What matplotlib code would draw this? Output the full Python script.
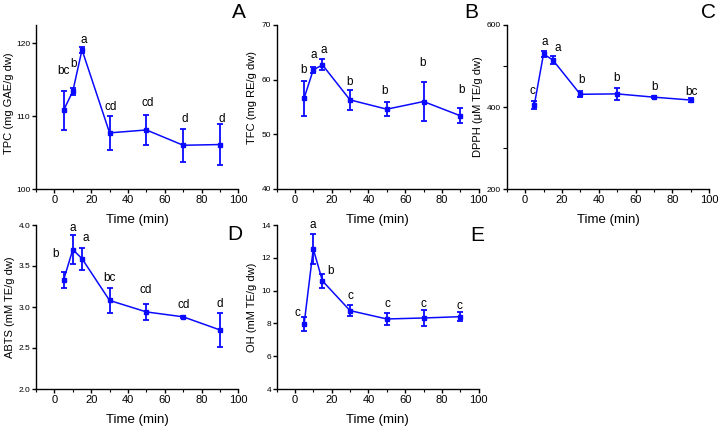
import matplotlib
matplotlib.use("Agg")
import matplotlib.pyplot as plt
from matplotlib.ticker import MultipleLocator, FormatStrFormatter

plt.rcParams['font.family'] = ['Liberation Sans', 'DejaVu Sans']

# ---------------- data ----------------
time_min = [5, 10, 15, 30, 50, 70, 90]

tpc = [110.8, 113.4, 119.1, 107.7, 108.1, 106.0, 106.1]
tpc_err = [2.7, 0.45, 0.4, 2.35, 2.1, 2.3, 2.85]
tpc_letters = ['bc', 'b', 'a', 'cd', 'cd', 'd', 'd']
tpc_letter_x = [5, 10.4, 15.7, 30.7, 50.7, 71, 90.7]
tpc_letter_y = [116.2, 117.1, 120.4, 111.2, 111.8, 109.6, 109.6]

tfc = [56.6, 61.8, 62.7, 56.3, 54.6, 56.0, 53.4]
tfc_err = [3.2, 0.5, 1.0, 1.9, 1.25, 3.55, 1.35]
tfc_letters = ['b', 'a', 'a', 'b', 'b', 'b', 'b']
tfc_letter_x = [4.8, 10.1, 15.7, 30, 49, 69.7, 90.7]
tfc_letter_y = [61.8, 64.45, 65.4, 59.6, 58.0, 63.0, 58.1]

dpph = [405, 529, 515, 431, 432, 424, 417]
dpph_err = [10, 8, 9, 7, 15, 3, 5.5]
dpph_letters = ['c', 'a', 'a', 'b', 'b', 'b', 'bc']
dpph_letter_x = [4.1, 10.6, 17.7, 30.9, 49.9, 70.5, 90.6]
dpph_letter_y = [439, 559, 543, 466, 470, 449.5, 437]

abts = [3.33, 3.70, 3.59, 3.08, 2.94, 2.88, 2.72]
abts_err = [0.10, 0.18, 0.135, 0.15, 0.095, 0.01, 0.21]
abts_letters = ['b', 'a', 'a', 'bc', 'cd', 'cd', 'd']
abts_letter_x = [0.8, 9.9, 16.8, 30.2, 49.8, 70, 90]
abts_letter_y = [3.65, 3.96, 3.84, 3.35, 3.21, 3.02, 3.04]

oh = [7.94, 12.54, 10.59, 8.78, 8.27, 8.33, 8.41]
oh_err = [0.43, 0.9, 0.43, 0.35, 0.35, 0.48, 0.27]
oh_letters = ['c', 'a', 'b', 'c', 'c', 'c', 'c']
oh_letter_x = [1.2, 9.7, 19.2, 30, 50.6, 69.7, 89.7]
oh_letter_y = [8.61, 14.0, 11.2, 9.67, 9.18, 9.18, 9.06]

W, H = 719, 428
fig = plt.figure(figsize=(W / 100, H / 100), dpi=100)


def rect(left, top, right, bottom):
    return [left / W, (H - bottom) / H, (right - left) / W, (bottom - top) / H]


panels = [
    dict(r=rect(36, 25, 238.4, 189), y=tpc, e=tpc_err, lab=tpc_letters, lx=tpc_letter_x, ly=tpc_letter_y,
         ylabel='TPC (mg GAE/g dw)', ylim=(100, 122.5), major=10, minor=None, fmt='%d',
         ylc=(-0.133, 0.524), tag='A', tagpos=(239, 13)),
    dict(r=rect(276.5, 25, 478.7, 189), y=tfc, e=tfc_err, lab=tfc_letters, lx=tfc_letter_x, ly=tfc_letter_y,
         ylabel='TFC (mg RE/g dw)', ylim=(40, 70), major=10, minor=None, fmt='%d',
         ylc=(-0.119, 0.56), tag='B', tagpos=(471, 13)),
    dict(r=rect(506.7, 25, 709.1, 189), y=dpph, e=dpph_err, lab=dpph_letters, lx=dpph_letter_x, ly=dpph_letter_y,
         ylabel='DPPH (\u03bcM TE/g dw)', ylim=(200, 600), major=200, minor=100, fmt='%d',
         ylc=(-0.14, 0.502), tag='C', tagpos=(709, 13)),
    dict(r=rect(36, 225, 238.4, 389), y=abts, e=abts_err, lab=abts_letters, lx=abts_letter_x, ly=abts_letter_y,
         ylabel='ABTS (mM TE/g dw)', ylim=(2, 4), major=0.5, minor=None, fmt='%.1f',
         ylc=(-0.126, 0.497), tag='D', tagpos=(235, 235)),
    dict(r=rect(276.5, 225, 478.7, 389), y=oh, e=oh_err, lab=oh_letters, lx=oh_letter_x, ly=oh_letter_y,
         ylabel='OH (mM TE/g dw)', ylim=(4, 14), major=2, minor=None, fmt='%d',
         ylc=(-0.119, 0.50), tag='E', tagpos=(477, 236)),
]

blue = '#0a0aff'
for p in panels:
    ax = fig.add_axes(p['r'])
    ax.patch.set_alpha(0)
    ax.errorbar(time_min, p['y'], yerr=p['e'], color=blue, lw=1.1, marker='s', ms=2.5,
                elinewidth=1.3, capsize=2.2, capthick=1.3, zorder=3)
    for t, xx, yy in zip(p['lab'], p['lx'], p['ly']):
        ax.text(xx, yy, t, ha='center', va='center', fontsize=8.5, color='black')
    ax.set_xlim(-10, 100)
    ax.set_ylim(*p['ylim'])
    ax.xaxis.set_major_locator(MultipleLocator(20))
    ax.xaxis.set_minor_locator(MultipleLocator(10))
    ax.yaxis.set_major_locator(MultipleLocator(p['major']))
    if p['minor']:
        ax.yaxis.set_minor_locator(MultipleLocator(p['minor']))
    ax.yaxis.set_major_formatter(FormatStrFormatter(p['fmt']))
    for s in ['top', 'right']:
        ax.spines[s].set_visible(False)
    for s in ['left', 'bottom']:
        ax.spines[s].set_linewidth(1.0)
    ax.tick_params(axis='x', which='major', direction='out', length=3, width=1.0, labelsize=8, pad=1.5)
    ax.tick_params(axis='x', which='minor', direction='out', length=2, width=0.8)
    ax.tick_params(axis='y', which='major', direction='out', length=3, width=1.0, labelsize=6, pad=1)
    ax.tick_params(axis='y', which='minor', direction='out', length=3, width=0.8)
    ax.set_xlabel('Time (min)', fontsize=9.5, va='center')
    ax.xaxis.set_label_coords(0.5, -0.186)
    ax.set_ylabel(p['ylabel'], fontsize=8, va='center')
    ax.yaxis.set_label_coords(*p['ylc'])
    fig.text(p['tagpos'][0] / W, 1 - p['tagpos'][1] / H, p['tag'], fontsize=15,
             ha='center', va='center')

fig.savefig('out.png', dpi=100)
